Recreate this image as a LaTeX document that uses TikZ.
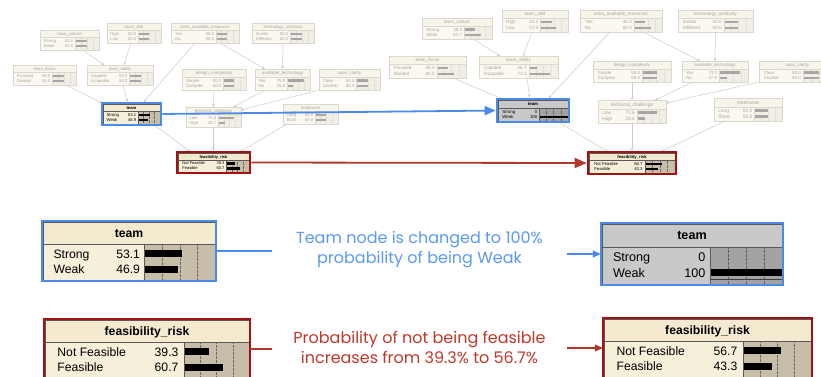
\documentclass[tikz,border=0pt]{standalone}
\usepackage{fontspec}
\setmainfont{Liberation Sans}
\newfontfamily\explfont{Poppins}
\usetikzlibrary{arrows.meta,calc}

% faded network nodes
\definecolor{fdBody}{HTML}{FAF8F1}
\definecolor{fdTitle}{HTML}{F7F4EA}
\definecolor{fdBar}{HTML}{F1EEE5}
\definecolor{fdText}{HTML}{A9A59C}
\definecolor{fdFill}{HTML}{A6A6A6}
\definecolor{fdLine}{HTML}{DCD8CE}
\definecolor{fdGrid}{HTML}{E0DCD2}
% highlighted (beige) nodes
\definecolor{mnBody}{HTML}{F6EFD9}
\definecolor{mnTitle}{HTML}{F3EAD0}
\definecolor{mnBar}{HTML}{C6BEA9}
\definecolor{mnText}{HTML}{000000}
\definecolor{mnFill}{HTML}{000000}
\definecolor{mnLine}{HTML}{5A5A5A}
\definecolor{mnGrid}{HTML}{6E6A60}
% evidence-set (grey) nodes
\definecolor{gyBody}{HTML}{C9C9C9}
\definecolor{gyTitle}{HTML}{C9C9C9}
\definecolor{gyBar}{HTML}{A3A3A3}
\definecolor{gyText}{HTML}{000000}
\definecolor{gyFill}{HTML}{000000}
\definecolor{gyLine}{HTML}{5A5A5A}
\definecolor{gyGrid}{HTML}{5E5E5E}

\definecolor{hlBlue}{HTML}{4A8AEC}
\definecolor{hlRed}{HTML}{A31212}
\definecolor{txtBlue}{HTML}{5B9AF0}
\definecolor{txtRed}{HTML}{C0392B}
\definecolor{linkRed}{HTML}{B0382A}
\definecolor{edgeGrey}{HTML}{CFCCC4}

\def\fdTF{}
\def\mnTF{\bfseries}
\def\gyTF{\bfseries}

\def\bnSplit#1/#2/#3/#4\bnEnd{\def\bnLa{#1}\def\bnVa{#2}\def\bnLb{#3}\def\bnVb{#4}}

% \bnode{style}{name}{x1}{y1}{x2}{y2}{title}{lab/val/lab/val}{bar-area start fraction}
\newcommand\bnode[9]{%
  \bnSplit#8\bnEnd
  \pgfmathsetmacro\bnW{#5-#3}%
  \pgfmathsetmacro\bnH{#6-#4}%
  \pgfmathsetmacro\bnF{0.21*\bnH}%
  \pgfmathsetmacro\bnT{#4+0.38*\bnH}%
  \pgfmathsetmacro\bnX{#3+#9*\bnW}%
  \pgfmathsetmacro\bnA{#5-\bnX}%
  \pgfmathsetmacro\bnYa{\bnT+0.27*(#6-\bnT)}%
  \pgfmathsetmacro\bnYb{\bnT+0.70*(#6-\bnT)}%
  \pgfmathsetmacro\bnD{0.095*(#6-\bnT)}%
  \node[anchor=north west, minimum width=\bnW pt, minimum height=\bnH pt,
        inner sep=0pt, outer sep=0pt, fill=#1Body] (#2) at (#3,#4) {};
  \fill[#1Title] (#3,#4) rectangle (#5,\bnT);
  \fill[#1Bar] (\bnX,\bnT) rectangle (#5,#6);
  \foreach \k in {1,2,3}
    \draw[#1Grid, line width=0.35pt, densely dotted]
      ({\bnX+\k*\bnA/4},\bnT) -- ({\bnX+\k*\bnA/4},#6);
  \fill[#1Fill] ({\bnX},{\bnYa-\bnD}) rectangle ({\bnX+\bnVa*\bnA/100},{\bnYa+\bnD});
  \fill[#1Fill] ({\bnX},{\bnYb-\bnD}) rectangle ({\bnX+\bnVb*\bnA/100},{\bnYb+\bnD});
  \draw[#1Line, line width=0.4pt] (#3,\bnT) -- (#5,\bnT) (\bnX,\bnT) -- (\bnX,#6);
  \draw[#1Line, line width=0.5pt] (#2.north west) rectangle (#2.south east);
  \node[anchor=base, inner sep=0pt, text=#1Text,
        font={\fontsize{\bnF pt}{\bnF pt}\selectfont\csname #1TF\endcsname}]
    (#2-t) at ({(#3+#5)/2},{(#4+\bnT)/2+0.36*\bnF}) {#7};
  \node[anchor=base west, inner sep=0pt, text=#1Text,
        font={\fontsize{\bnF pt}{\bnF pt}\selectfont}]
    (#2-la) at ({#3+0.06*\bnW},{\bnYa+0.36*\bnF}) {\bnLa};
  \node[anchor=base east, inner sep=0pt, text=#1Text,
        font={\fontsize{\bnF pt}{\bnF pt}\selectfont}]
    (#2-va) at ({\bnX-0.025*\bnW},{\bnYa+0.36*\bnF}) {\bnVa};
  \node[anchor=base west, inner sep=0pt, text=#1Text,
        font={\fontsize{\bnF pt}{\bnF pt}\selectfont}]
    (#2-lb) at ({#3+0.06*\bnW},{\bnYb+0.36*\bnF}) {\bnLb};
  \node[anchor=base east, inner sep=0pt, text=#1Text,
        font={\fontsize{\bnF pt}{\bnF pt}\selectfont}]
    (#2-vb) at ({\bnX-0.025*\bnW},{\bnYb+0.36*\bnF}) {\bnVb};
}

\tikzset{
  edge/.style={draw=edgeGrey, line width=0.5pt,
               -{Stealth[length=3pt,width=2.6pt,fill=edgeGrey!80!black]}},
  blueframe/.style={draw=hlBlue, line width=2.4pt},
  redframe/.style={draw=hlRed, line width=2.4pt},
  bluelink/.style={draw=hlBlue, line width=1.8pt, -{Triangle[length=11pt,width=9pt]}},
  redlink/.style={draw=linkRed, line width=1.8pt, -{Triangle[length=12pt,width=10pt]}},
  expl/.style={align=center, inner sep=0pt,
               font={\explfont\fontsize{16pt}{20pt}\selectfont}},
}

\newcommand\frameit[2]{%
  \draw[#1] ([shift={(-1.2pt,1.2pt)}]#2.north west) rectangle ([shift={(1.2pt,-1.2pt)}]#2.south east);}

\begin{document}
\begin{tikzpicture}[x=1pt,y=-1pt]
\fill[white] (0,0) rectangle (821,376);
\useasboundingbox (0,0) rectangle (821,376);

% ---------- network before evidence ----------
\bnode{fd}{tcuL}{40}{30}{99}{50}{team\_culture}{Strong/50.0/Weak/50.0}{0.59}
\bnode{fd}{tskL}{107}{23}{161}{43}{team\_skill}{High/50.0/Low/50.0}{0.57}
\bnode{fd}{earL}{171}{23}{239}{43}{extra\_available\_resources}{Yes/50.0/No/50.0}{0.66}
\bnode{fd}{tsiL}{252}{23}{314}{43}{technology\_similarity}{Similar/50.0/Different/50.0}{0.61}
\bnode{fd}{tfoL}{13}{65}{76}{85}{team\_focus}{Focused/50.0/Divided/50.0}{0.62}
\bnode{fd}{tabL}{87}{65}{153}{85}{team\_ability}{Capable/50.0/Incapable/50.0}{0.64}
\bnode{fd}{dcoL}{182}{69}{246}{90}{design\_complexity}{Simple/50.0/Complex/50.0}{0.64}
\bnode{fd}{avtL}{255}{69}{310}{90}{available\_technology}{Yes/75.0/No/25.0}{0.58}
\bnode{fd}{scL}{319}{69}{380}{90}{spec\_clarity}{Clear/50.0/Unclear/50.0}{0.61}
\bnode{fd}{tchL}{186}{107}{241}{127}{technical\_challenge}{Low/71.3/High/28.7}{0.58}
\bnode{fd}{tfrL}{283}{104}{338}{124}{timeframe}{Long/50.0/Short/50.0}{0.58}
\bnode{mn}{teamL}{103}{104}{160}{124}{team}{Strong/53.1/Weak/46.9}{0.61}
\bnode{mn}{feasL}{178}{153}{249}{172}{feasibility\_risk}{Not Feasible/39.3/Feasible/60.7}{0.68}

\draw[edge] ([xshift=13.5pt]tcuL.south) -- ([xshift=-16pt]tabL.north);
\draw[edge] ([xshift=-3pt]tskL.south) -- ([xshift=4pt]tabL.north);
\draw[edge, shorten >=2.4pt] ([xshift=21pt]tfoL.south) -- ([xshift=-27pt]teamL.north);
\draw[edge, shorten >=2.4pt] ([xshift=3pt]tabL.south) -- ([xshift=-3.5pt]teamL.north);
\draw[edge, shorten >=2.4pt] ([xshift=-10pt]earL.south) -- ([xshift=10.5pt]teamL.north);
\draw[edge] ([xshift=15pt]earL.south) -- ([xshift=-17.5pt]avtL.north);
\draw[edge] (tsiL.south) -- (avtL.north);
\draw[edge] (dcoL.south) -- (tchL.north);
\draw[edge] ([xshift=-17.5pt]avtL.south) -- ([xshift=20pt]tchL.north);
\draw[edge] (scL.south west) -- ([yshift=-3pt]tchL.north east);
\draw[edge, shorten <=2.4pt, shorten >=2.4pt] ([xshift=21.5pt]teamL.south) -- ([xshift=-21.5pt]feasL.north);
\draw[edge, shorten >=2.4pt] (tchL.south) -- (feasL.north);
\draw[edge, shorten >=2.4pt] ([xshift=-23.5pt]tfrL.south) -- ([xshift=24.5pt]feasL.north);

% ---------- network after evidence ----------
\bnode{fd}{tcuR}{422}{18}{492}{39}{team\_culture}{Strong/38.3/Weak/61.7}{0.60}
\bnode{fd}{tskR}{502}{10}{568}{32}{team\_skill}{High/43.0/Low/57.0}{0.58}
\bnode{fd}{earR}{580}{10}{662}{32}{extra\_available\_resources}{Yes/40.0/No/60.0}{0.66}
\bnode{fd}{tsiR}{678}{10}{753}{32}{technology\_similarity}{Similar/50.0/Different/50.0}{0.61}
\bnode{fd}{tfoR}{389}{56}{466}{78}{team\_focus}{Focused/40.0/Divided/60.0}{0.62}
\bnode{fd}{tabR}{479}{56}{558}{78}{team\_ability}{Capable/26.7/Incapable/73.3}{0.63}
\bnode{fd}{dcoR}{593}{61}{671}{82}{design\_complexity}{Simple/50.0/Complex/50.0}{0.63}
\bnode{fd}{avtR}{682}{61}{748}{82}{available\_technology}{Yes/73.0/No/27.0}{0.56}
\bnode{fd}{scR}{759}{61}{836}{82}{spec\_clarity}{Clear/50.0/Unclear/50.0}{0.57}
\bnode{fd}{tchR}{598}{100}{666}{123}{technical\_challenge}{Low/70.6/High/29.4}{0.57}
\bnode{fd}{tfrR}{714}{98}{782}{121}{timeframe}{Long/50.0/Short/50.0}{0.59}
\bnode{gy}{teamR}{498}{100}{568}{121}{team}{Strong/0/Weak/100}{0.59}
\bnode{mn}{feasR}{589}{153}{675}{173}{feasibility\_risk}{Not Feasible/56.7/Feasible/43.3}{0.65}

\draw[edge] ([xshift=16pt]tcuR.south) -- ([xshift=-18.5pt]tabR.north);
\draw[edge] ([xshift=-3pt]tskR.south) -- ([xshift=4.5pt]tabR.north);
\draw[edge, shorten >=2.4pt] ([xshift=25.5pt]tfoR.south) -- ([xshift=-28pt]teamR.north);
\draw[edge, shorten >=2.4pt] ([xshift=8.5pt]tabR.south) -- ([xshift=-3pt]teamR.north);
\draw[edge, shorten >=2.4pt] ([xshift=-11pt]earR.south) -- ([xshift=14pt]teamR.north);
\draw[edge] ([xshift=22pt]earR.south) -- ([xshift=-15pt]avtR.north);
\draw[edge] (tsiR.south) -- (avtR.north);
\draw[edge] (dcoR.south) -- (tchR.north);
\draw[edge] ([xshift=-22pt]avtR.south) -- ([xshift=23pt]tchR.north);
\draw[edge] (scR.south west) -- ([yshift=-3pt]tchR.north east);
\draw[edge, shorten <=2.4pt, shorten >=2.4pt] ([xshift=24pt]teamR.south) -- ([xshift=-22pt]feasR.north);
\draw[edge, shorten >=2.4pt] (tchR.south) -- (feasR.north);
\draw[edge, shorten >=2.4pt] ([xshift=-23pt]tfrR.south) -- ([xshift=26pt]feasR.north);

\frameit{blueframe}{teamL}
\frameit{redframe}{feasL}
\frameit{blueframe}{teamR}
\frameit{redframe}{feasR}

\draw[bluelink, shorten <=2.4pt, shorten >=2.4pt] (teamL.east) -- (teamR.west);
\draw[redlink, shorten <=2.4pt, shorten >=2.4pt] (feasL.east) -- (feasR.west);

% ---------- enlarged nodes with notes ----------
\bnode{mn}{bigTeamL}{43}{222}{215}{280}{team}{Strong/53.1/Weak/46.9}{0.59}
\bnode{gy}{bigTeamR}{602}{224}{782}{284}{team}{Strong/0/Weak/100}{0.60}
\draw[black!75, line width=0.6pt] (710,279) -- (782,279);
\bnode{mn}{bigFeasL}{45}{320}{249}{378}{feasibility\_risk}{Not Feasible/39.3/Feasible/60.7}{0.68}
\bnode{mn}{bigFeasR}{604}{319}{811}{377}{feasibility\_risk}{Not Feasible/56.7/Feasible/43.3}{0.67}

\frameit{blueframe}{bigTeamL}
\frameit{blueframe}{bigTeamR}
\frameit{redframe}{bigFeasL}
\frameit{redframe}{bigFeasR}

\node[expl, text=txtBlue] (noteTeam) at (419.5,250) {Team node is changed to 100\%\\probability of being Weak};
\node[expl, text=txtRed] (noteFeas) at (419.5,347) {Probability of not being feasible\\increases from 39.3\% to 56.7\%};

\coordinate (teamLineEnd) at (272,252);
\coordinate (teamArrowStart) at (567,253);
\coordinate (feasLineEnd) at (272,347);
\coordinate (feasArrowStart) at (567,347);

\draw[hlBlue, line width=1.3pt, shorten <=1.2pt] (bigTeamL.east) -- (bigTeamL.east -| teamLineEnd);
\draw[hlBlue, line width=1.3pt, shorten >=1.2pt, -{Triangle[length=8pt,width=7pt]}]
  (bigTeamR.west -| teamArrowStart) -- (bigTeamR.west);
\draw[linkRed, line width=1.3pt, shorten <=1.2pt] (bigFeasL.east) -- (bigFeasL.east -| feasLineEnd);
\draw[linkRed, line width=1.3pt, shorten >=1.2pt, -{Triangle[length=8pt,width=7pt]}]
  (bigFeasR.west -| feasArrowStart) -- (bigFeasR.west);
\end{tikzpicture}
\end{document}
